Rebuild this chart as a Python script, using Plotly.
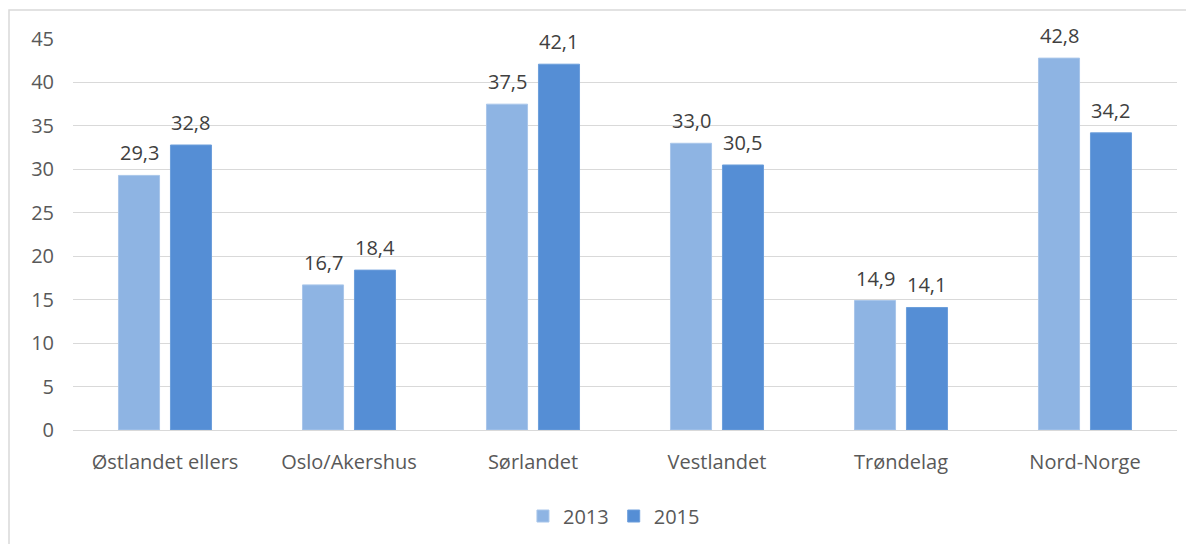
import plotly.graph_objects as go

categories = ["Østlandet ellers", "Oslo/Akershus", "Sørlandet", "Vestlandet", "Trøndelag", "Nord-Norge"]
values_2013 = [29.3, 16.7, 37.5, 33.0, 14.9, 42.8]
values_2015 = [32.8, 18.4, 42.1, 30.5, 14.1, 34.2]
tick_vals = [0, 5, 10, 15, 20, 25, 30, 35, 40, 45]

def fmt(v):
    return f"{v:.1f}".replace(".", ",")

FONT = "Open Sans"
fig = go.Figure()
fig.add_trace(go.Bar(
    name="2013", x=categories, y=values_2013,
    marker=dict(color="#8EB4E3", line=dict(color="#A9C6EA", width=1)),
))
fig.add_trace(go.Bar(
    name="2015", x=categories, y=values_2015,
    marker=dict(color="#558ED5", line=dict(color="#6C9EDB", width=1)),
))

W, H = 1186, 536
L, R, T, B = 65, 17, 31, 114
PW, PH = W - L - R, H - T - B
SLOT = PW / len(categories) * (1 - 0.435) / 2

annotations = []
for vals, sign in ((values_2013, -1), (values_2015, 1)):
    for c, v in zip(categories, vals):
        annotations.append(dict(x=c, y=v, text=fmt(v), showarrow=False,
                                xshift=sign * SLOT / 2, yshift=7, yanchor="bottom",
                                font=dict(color="#404040", size=20, family=FONT)))

fig.update_layout(
    width=W, height=H,
    margin=dict(l=L, r=R, t=T, b=B, autoexpand=False),
    paper_bgcolor="white", plot_bgcolor="white",
    barmode="group", bargap=0.435, bargroupgap=0.21,
    font=dict(family=FONT, color="#595959", size=20),
    showlegend=True,
    legend=dict(orientation="h", x=0.49, xanchor="center", y=-0.22, yanchor="middle",
                font=dict(size=20, color="#595959"), traceorder="normal"),
    xaxis=dict(showgrid=False, showline=True, linecolor="#D9D9D9", linewidth=1,
               ticks="", tickfont=dict(size=20, color="#595959"), ticklabelstandoff=14,
               automargin=False),
    yaxis=dict(range=[0, 45], tickvals=tick_vals, showgrid=True, gridcolor="#D9D9D9",
               gridwidth=1, zeroline=False, showline=False, ticks="",
               tickfont=dict(size=20, color="#595959"), ticklabelstandoff=18,
               automargin=False),
    annotations=annotations,
    shapes=[dict(type="rect", xref="paper", yref="paper",
                 x0=(1 - L) / PW, x1=1.1, y0=-0.4, y1=(PH + T - 2) / PH,
                 line=dict(color="#D9D9D9", width=1.5), fillcolor="rgba(0,0,0,0)", layer="below")],
)
fig.write_html("out.html")
